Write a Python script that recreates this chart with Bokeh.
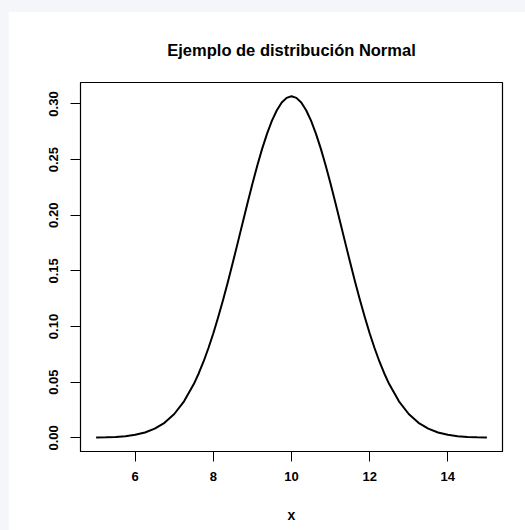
from bokeh.plotting import figure
from bokeh.embed import file_html
from bokeh.resources import INLINE
from bokeh.models import FixedTicker, Range1d

# data
x_vals = [5.0, 5.25, 5.5, 5.75, 6.0, 6.25, 6.5, 6.75, 7.0, 7.25,
          7.5, 7.625, 7.75, 7.875, 8.0, 8.125, 8.25, 8.375, 8.5, 8.625, 8.75, 8.875,
          9.0, 9.125, 9.25, 9.375, 9.5, 9.625, 9.75, 9.875, 10.0,
          10.125, 10.25, 10.375, 10.5, 10.625, 10.75, 10.875, 11.0, 11.125, 11.25, 11.375,
          11.5, 11.625, 11.75, 11.875, 12.0, 12.125, 12.25, 12.375, 12.5,
          12.75, 13.0, 13.25, 13.5, 13.75, 14.0, 14.25, 14.5, 14.75, 15.0]
y_vals = [0.0002, 0.0004, 0.0008, 0.0015, 0.0027, 0.0048, 0.0082, 0.0135, 0.0214, 0.0328,
          0.0483, 0.0578, 0.0686, 0.0807, 0.0940, 0.1085, 0.1240, 0.1405, 0.1577, 0.1754,
          0.1933, 0.2110, 0.2283, 0.2447, 0.2599, 0.2734, 0.2850, 0.2944, 0.3013, 0.3055,
          0.3069,
          0.3055, 0.3013, 0.2944, 0.2850, 0.2734, 0.2599, 0.2447, 0.2283, 0.2110, 0.1933,
          0.1754, 0.1577, 0.1405, 0.1240, 0.1085, 0.0940, 0.0807, 0.0686, 0.0578, 0.0483,
          0.0328, 0.0214, 0.0135, 0.0082, 0.0048, 0.0027, 0.0015, 0.0008, 0.0004, 0.0002]
x_ticks = [6, 8, 10, 12, 14]
y_ticks = [0.0, 0.05, 0.10, 0.15, 0.20, 0.25, 0.30]
y_tick_labels = ["0.00", "0.05", "0.10", "0.15", "0.20", "0.25", "0.30"]
title_text = "Ejemplo de distribución Normal"
x_label = "x"

FONT = "Liberation Sans"

p = figure(width=517, height=519, output_backend="svg", toolbar_location=None,
           x_range=Range1d(4.6, 15.4), y_range=Range1d(-0.0123, 0.3193),
           min_border_left=72, min_border_right=23, min_border_top=71, min_border_bottom=79)
p.title.text = title_text
p.title.text_font = FONT
p.title.text_font_size = "16.5px"
p.title.text_font_style = "bold"
p.title.text_color = "black"
p.title.align = "center"
p.title.standoff = 48

p.line(x_vals, y_vals, line_color="black", line_width=2, line_join="round")

p.grid.visible = False
p.background_fill_color = "white"
p.border_fill_color = "white"
p.outline_line_color = "black"
p.outline_line_width = 1.2

for ax in (p.xaxis[0], p.yaxis[0]):
    ax.axis_line_color = "black"
    ax.major_tick_line_color = "black"
    ax.major_tick_out = 10
    ax.major_tick_in = 0
    ax.minor_tick_line_color = None
    ax.major_label_text_font = FONT
    ax.major_label_text_font_size = "13px"
    ax.major_label_text_font_style = "bold"
    ax.major_label_text_color = "black"

p.xaxis.major_label_standoff = 10
p.yaxis.major_label_standoff = 12
p.xaxis.ticker = FixedTicker(ticks=x_ticks)
p.yaxis.ticker = FixedTicker(ticks=y_ticks)
p.yaxis.major_label_overrides = {t: l for t, l in zip(y_ticks, y_tick_labels)}
p.yaxis.major_label_orientation = "vertical"
p.xaxis.axis_label = x_label
p.xaxis.axis_label_text_font = FONT
p.xaxis.axis_label_text_font_size = "14px"
p.xaxis.axis_label_text_font_style = "bold"
p.xaxis.axis_label_text_color = "black"
p.xaxis.axis_label_standoff = 23

html = file_html(p, INLINE)
style = ("<style>html,body{background:#f5f6fa !important;margin:0 !important;overflow:hidden !important}"
         "body{padding:11px 0 0 8px !important}</style>")
html = html.replace("</head>", style + "</head>", 1)
open("out.html", "w").write(html)
